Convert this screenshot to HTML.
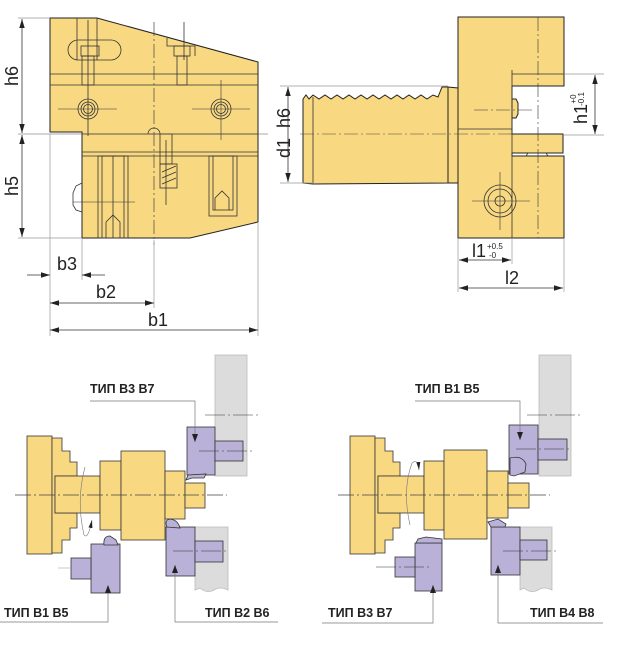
<!DOCTYPE html>
<html><head><meta charset="utf-8"><style>
html,body{margin:0;padding:0;background:#fff;}
svg{display:block;}
text{font-family:"Liberation Sans","Noto Sans CJK SC",sans-serif;}
</style></head><body>
<svg width="644" height="647" viewBox="0 0 644 647" xmlns="http://www.w3.org/2000/svg">
<defs>
<marker id="a" viewBox="0 0 10 10" refX="10" refY="5" markerWidth="9" markerHeight="9" orient="auto-start-reverse" markerUnits="userSpaceOnUse"><path d="M0,2 L10,5 L0,8 z" fill="#222"/></marker>
<marker id="s" viewBox="0 0 10 10" refX="10" refY="5" markerWidth="8" markerHeight="8" orient="auto" markerUnits="userSpaceOnUse"><path d="M0,2.5 L10,5 L0,7.5 z" fill="#222"/></marker>
</defs>

<!-- ===== Top-left view ===== -->
<g stroke="#222" stroke-width="1" fill="#f8d982">
<path d="M50,18 L97,18 L258,62 L258,222 L190,238 L82,238 L82,132 L50,132 Z"/>
</g>
<g stroke="#333" stroke-width="0.8" fill="none">
<line x1="50" y1="74" x2="258" y2="74"/>
<line x1="50" y1="85" x2="258" y2="85"/>
<line x1="82" y1="134" x2="258" y2="134"/>
<line x1="82" y1="152" x2="258" y2="152"/>
<line x1="82" y1="156" x2="258" y2="156"/>
<line x1="77" y1="18" x2="77" y2="60"/><line x1="97" y1="18" x2="97" y2="60"/>
<rect x="68" y="40" width="53" height="20" rx="10"/>
<rect x="81" y="46" width="18" height="10"/>
<rect x="82" y="56" width="12" height="29"/>
<line x1="88" y1="20" x2="88" y2="136"/>
<path d="M167,38 L167,46 L195,46 L195,56"/>
<rect x="174" y="46" width="16" height="10"/>
<rect x="177" y="56" width="10" height="29"/>
<line x1="184" y1="22" x2="184" y2="60"/>
<circle cx="88" cy="109" r="10"/><circle cx="88" cy="109" r="7"/><circle cx="88" cy="109" r="4.5"/>
<circle cx="221" cy="109" r="10"/><circle cx="221" cy="109" r="7"/><circle cx="221" cy="109" r="4.5"/>
<line x1="58" y1="109" x2="117" y2="109" stroke-width="0.6"/>
<line x1="192" y1="109" x2="250" y2="109" stroke-width="0.6"/>
<line x1="221" y1="80" x2="221" y2="140" stroke-width="0.6"/>
<path d="M148,134 A6,6 0 0 1 160,134"/>
<rect x="98" y="156" width="30" height="82"/><rect x="102" y="156" width="22" height="82"/>
<line x1="113" y1="156" x2="113" y2="238"/>
<path d="M106,238 L106,222 L113,215 L120,222 L120,238"/>
<rect x="209" y="156" width="28" height="60"/><rect x="213" y="156" width="20" height="54"/>
<path d="M215,210 L215,198 L222,191 L229,198 L229,210"/>
<rect x="160" y="134" width="12" height="30"/>
<rect x="160" y="164" width="17" height="24"/>
<line x1="162" y1="172" x2="176" y2="166"/><line x1="162" y1="178" x2="176" y2="172"/><line x1="162" y1="184" x2="176" y2="178"/>
<line x1="166" y1="140" x2="166" y2="205"/>
<path d="M82,183 L76,186 L73,193 L73,205 L76,210 L82,212"/>
<line x1="73" y1="202" x2="135" y2="202" stroke-width="0.6"/>
</g>
<line x1="154" y1="22" x2="154" y2="245" stroke="#444" stroke-width="0.7" stroke-dasharray="14,3,2,3"/>
<line x1="18" y1="134" x2="268" y2="134" stroke="#555" stroke-width="0.6"/>
<!-- dims -->
<g stroke="#999" stroke-width="0.7">
<line x1="18" y1="18" x2="50" y2="18"/>
<line x1="18" y1="238" x2="82" y2="238"/>
<line x1="50" y1="134" x2="50" y2="336"/>
<line x1="82" y1="238" x2="82" y2="280"/>
<line x1="154" y1="240" x2="154" y2="308"/>
<line x1="258" y1="222" x2="258" y2="336"/>
</g>
<g stroke="#333" stroke-width="0.8">
<line x1="22" y1="19" x2="22" y2="133" marker-start="url(#a)" marker-end="url(#a)"/>
<line x1="22" y1="135" x2="22" y2="237" marker-start="url(#a)" marker-end="url(#a)"/>
<line x1="27" y1="275" x2="50" y2="275" marker-end="url(#a)"/>
<line x1="105" y1="275" x2="82" y2="275" marker-end="url(#a)"/>
<line x1="50" y1="303" x2="154" y2="303" marker-start="url(#a)" marker-end="url(#a)"/>
<line x1="50" y1="330" x2="258" y2="330" marker-start="url(#a)" marker-end="url(#a)"/>
</g>
<g font-size="18" fill="#222">
<text transform="translate(18,76) rotate(-90)" text-anchor="middle">h6</text>
<text transform="translate(18,186) rotate(-90)" text-anchor="middle">h5</text>
<text x="67" y="270" text-anchor="middle">b3</text>
<text x="106" y="298" text-anchor="middle">b2</text>
<text x="158" y="326" text-anchor="middle">b1</text>
</g>

<!-- ===== Top-right view ===== -->
<g stroke="#222" stroke-width="1" fill="#f8d982">
<path d="M303,99 L306,95 L309,99 L313,95 L319,99 L325,95 L331,99 L337,95 L343,99 L349,95 L355,99 L361,95 L367,99 L373,95 L379,99 L385,95 L391,99 L397,95 L403,99 L409,95 L415,99 L421,95 L427,99 L433,95 L438,97 L442,87 L448,87 L448,183 L313,184 L303,183 Z"/>
<path d="M448,87 L458,88 L458,183 L448,183 Z"/>
<path d="M458,17 L564,17 L564,86 L512,86 L512,134 L563,134 L563,153 L512,153 L512,156 L564,156 L564,238 L458,238 Z"/>
<path d="M512,99 L516,99 L518,103 L518,114 L516,118 L512,118 Z"/>
</g>
<g stroke="#333" stroke-width="0.8" fill="none">
<line x1="313" y1="97" x2="313" y2="183"/>
<line x1="512" y1="74" x2="564" y2="74"/>
<line x1="512" y1="70" x2="512" y2="238"/>
<line x1="458" y1="129" x2="512" y2="129"/>
<line x1="538" y1="17" x2="538" y2="238" stroke-dasharray="14,3,2,3" stroke-width="0.6"/>
<circle cx="500" cy="201" r="16"/><circle cx="500" cy="201" r="12"/><circle cx="500" cy="201" r="5"/>
<line x1="472" y1="201" x2="530" y2="201" stroke-width="0.6"/>
<line x1="500" y1="172" x2="500" y2="230" stroke-width="0.6"/>
<line x1="474" y1="110" x2="532" y2="110" stroke-width="0.6" stroke-dasharray="14,3,2,3"/>
<path d="M526,156 L528,153 L546,153 L548,156"/>
</g>
<line x1="300" y1="134" x2="512" y2="134" stroke="#444" stroke-width="0.6" stroke-dasharray="14,3,2,3"/>
<g stroke="#999" stroke-width="0.7">
<line x1="280" y1="86" x2="448" y2="86"/>
<line x1="280" y1="183" x2="313" y2="183"/>
<line x1="564" y1="74" x2="604" y2="74"/>
<line x1="564" y1="135" x2="604" y2="135"/>
<line x1="458" y1="238" x2="458" y2="292"/>
<line x1="512" y1="238" x2="512" y2="264"/>
<line x1="564" y1="238" x2="564" y2="292"/>
</g>
<g stroke="#333" stroke-width="0.8">
<line x1="288" y1="87" x2="288" y2="182" marker-start="url(#a)" marker-end="url(#a)"/>
<line x1="595" y1="75" x2="595" y2="134" marker-start="url(#a)" marker-end="url(#a)"/>
<line x1="459" y1="260" x2="511" y2="260" marker-start="url(#a)" marker-end="url(#a)"/>
<line x1="459" y1="288" x2="563" y2="288" marker-start="url(#a)" marker-end="url(#a)"/>
</g>
<g font-size="18" fill="#222">
<text transform="translate(290,118) rotate(-90)" text-anchor="middle">h6</text>
<text transform="translate(290,148) rotate(-90)" text-anchor="middle">d1</text>
<text transform="translate(587,114) rotate(-90)" text-anchor="middle">h1</text>
<text x="472" y="257">l1</text>
<text x="505" y="284">l2</text>
</g>
<g font-size="8" fill="#222">
<text transform="translate(576,99) rotate(-90)" text-anchor="middle">+0</text>
<text transform="translate(584,99) rotate(-90)" text-anchor="middle">-0.1</text>
<text x="487" y="249">+0.5</text>
<text x="489" y="258">-0</text>
</g>

<!-- ===== Bottom scenes ===== -->
<g id="sceneL">
<rect x="215" y="355" width="32" height="121" fill="#dcdcdc" stroke="#bbb" stroke-width="0.8"/>
<path d="M195,527 L228,527 L228,590 Q220,586 214,590 Q207,594 200,588 L195,590 Z" fill="#dcdcdc" stroke="#bbb" stroke-width="0.8"/>
<g fill="#f8d982" stroke="#333" stroke-width="0.8">
<rect x="27" y="436" width="25" height="118"/>
<path d="M52,438 L62,438 L62,451 L70,451 L70,462 L77,462 L77,476 L55,476 L55,513 L77,513 L77,528 L70,528 L70,540 L62,540 L62,553 L52,553 Z"/>
<rect x="55" y="476" width="45" height="37"/>
<rect x="100" y="461" width="21" height="69"/>
<rect x="121" y="451" width="44" height="89"/>
<rect x="165" y="471" width="20" height="48"/>
<rect x="185" y="483" width="20" height="25"/>
</g>
<g fill="#b9b1d8" stroke="#333" stroke-width="0.8">
<rect x="187" y="427" width="28" height="48"/>
<rect x="215" y="441" width="28" height="20"/>
<rect x="166" y="527" width="29" height="49"/>
<rect x="195" y="541" width="28" height="21"/>
<rect x="91" y="544" width="29" height="49"/>
<rect x="71" y="558" width="20" height="21"/>
<path d="M188,475 L186,480 L192,478 L204,478 L206,474 Z"/>
<path d="M167,527 Q164,520 170,519 Q178,520 180,528 Z"/>
<path d="M104,545 Q103,536 110,536 L116,540 L118,545 Z"/>
</g>
<line x1="15" y1="495" x2="227" y2="495" stroke="#444" stroke-width="0.7" stroke-dasharray="16,3,2,3"/>
<line x1="205" y1="415" x2="260" y2="415" stroke="#333" stroke-width="0.6" stroke-dasharray="20,3,2,3"/>
<line x1="199" y1="451" x2="255" y2="451" stroke="#333" stroke-width="0.6" stroke-dasharray="20,3,2,3"/>
<line x1="173" y1="551" x2="229" y2="551" stroke="#333" stroke-width="0.6" stroke-dasharray="20,3,2,3"/>
<line x1="58" y1="568" x2="71" y2="568" stroke="#bbb" stroke-width="0.8"/>
<path d="M85,467 Q76,500 84,535 Q88,540 92,520" fill="none" stroke="#777" stroke-width="0.6" marker-end="url(#s)"/>
<g stroke="#777" stroke-width="0.7" fill="none">
<polyline points="90,401 195,401 195,442"/>
<polyline points="0,622 108,622 108,586"/>
<polyline points="278,622 175,622 175,565"/>
</g>
<path d="M192,434 L195,442 L198,434 Z" fill="#222"/>
<path d="M105,593 L108,585 L111,593 Z" fill="#222"/>
<path d="M172,573 L175,565 L178,573 Z" fill="#222"/>
<g font-size="12.5" font-weight="bold" fill="#222">
<text x="90" y="393">ТИП В3 В7</text>
<text x="4" y="617">ТИП В1 В5</text>
<text x="205" y="617">ТИП В2 В6</text>
</g>
</g>

<g>
<rect x="539" y="355" width="32" height="121" fill="#dcdcdc" stroke="#bbb" stroke-width="0.8"/>
<path d="M520,527 L552,527 L552,590 Q544,586 538,590 Q531,594 524,588 L520,590 Z" fill="#dcdcdc" stroke="#bbb" stroke-width="0.8"/>
<g fill="#f8d982" stroke="#333" stroke-width="0.8">
<rect x="350" y="436" width="25" height="118"/>
<path d="M375,438 L385,438 L385,451 L393,451 L393,462 L400,462 L400,476 L378,476 L378,513 L400,513 L400,528 L393,528 L393,540 L385,540 L385,553 L375,553 Z"/>
<rect x="378" y="476" width="46" height="37"/>
<rect x="424" y="461" width="20" height="69"/>
<rect x="444" y="450" width="43" height="89"/>
<rect x="487" y="471" width="21" height="47"/>
<rect x="508" y="483" width="21" height="25"/>
</g>
<g fill="#b9b1d8" stroke="#333" stroke-width="0.8">
<rect x="509" y="425" width="29" height="49"/>
<rect x="538" y="439" width="29" height="21"/>
<rect x="491" y="527" width="29" height="48"/>
<rect x="520" y="540" width="27" height="20"/>
<rect x="415" y="543" width="27" height="48"/>
<rect x="395" y="557" width="20" height="20"/>
<path d="M510,458 Q522,455 526,464 L525,472 L514,476 L510,475 Z"/>
<path d="M491,527 L488,522 L498,519 L506,524 L505,527 Z"/>
<path d="M416,543 L418,539 L426,537 L442,539 L442,543 Z"/>
</g>
<line x1="338" y1="495" x2="550" y2="495" stroke="#444" stroke-width="0.7" stroke-dasharray="16,3,2,3"/>
<line x1="527" y1="415" x2="583" y2="415" stroke="#333" stroke-width="0.6" stroke-dasharray="20,3,2,3"/>
<line x1="516" y1="449" x2="572" y2="449" stroke="#333" stroke-width="0.6" stroke-dasharray="20,3,2,3"/>
<line x1="503" y1="551" x2="558" y2="551" stroke="#333" stroke-width="0.6" stroke-dasharray="20,3,2,3"/>
<line x1="376" y1="567" x2="430" y2="567" stroke="#333" stroke-width="0.6" stroke-dasharray="20,3,2,3"/>
<path d="M410,525 Q402,490 412,463 Q418,458 419,470" fill="none" stroke="#777" stroke-width="0.6" marker-end="url(#s)"/>
<g stroke="#777" stroke-width="0.7" fill="none">
<polyline points="415,401 520,401 520,440"/>
<polyline points="322,623 433,623 433,585"/>
<polyline points="603,623 498,623 498,565"/>
</g>
<path d="M517,432 L520,440 L523,432 Z" fill="#222"/>
<path d="M430,593 L433,585 L436,593 Z" fill="#222"/>
<path d="M495,573 L498,565 L501,573 Z" fill="#222"/>
<g font-size="12.5" font-weight="bold" fill="#222">
<text x="415" y="393">ТИП В1 В5</text>
<text x="328" y="617">ТИП В3 В7</text>
<text x="530" y="617">ТИП В4 В8</text>
</g>
</g>
</svg>
</body></html>
